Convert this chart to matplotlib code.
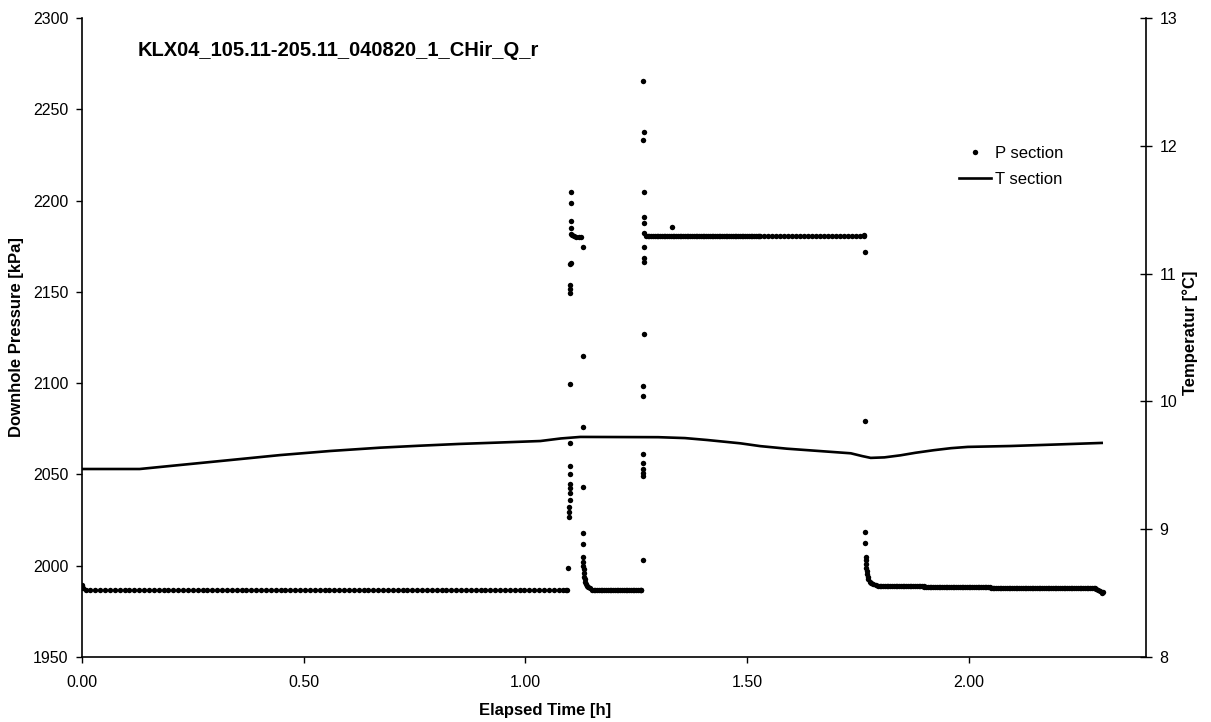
import numpy as np
import matplotlib.pyplot as plt

plt.rcParams['font.family'] = ['Liberation Sans', 'DejaVu Sans']

title = 'KLX04_105.11-205.11_040820_1_CHir_Q_r'

# pressure log
# flat stretches: start [h], end [h], logging step [h], level [kPa]
p_flat = [
    (0.008, 1.090, 0.011, 1986.6),
    (1.150, 1.262, 0.004, 1986.9),
    (1.272, 1.530, 0.004, 2180.7),
    (1.530, 1.762, 0.009, 2180.6),
    (1.795, 1.900, 0.004, 1989.0),
    (1.900, 2.050, 0.004, 1988.2),
    (2.050, 2.286, 0.004, 1987.6),
]

t_start = [0.000, 0.003]
p_start = [1989.2, 1987.8]

t_jump1 = [1.092, 1.095, 1.097, 1.098, 1.099, 1.099, 1.100, 1.100, 1.100, 1.101,
           1.101, 1.101, 1.101, 1.100, 1.101, 1.101, 1.101, 1.101, 1.102, 1.103,
           1.103, 1.103, 1.102, 1.102, 1.106, 1.110, 1.115, 1.120, 1.125]
p_jump1 = [1986.6, 1986.8, 1998.9, 2026.7, 2029.5, 2032.0, 2036.0, 2040.0, 2042.5, 2045.0,
           2050.0, 2054.6, 2067.4, 2099.3, 2149.3, 2151.5, 2153.7, 2165.2, 2166.0, 2181.7,
           2184.8, 2189.0, 2198.8, 2204.8, 2181.0, 2180.5, 2180.3, 2180.2, 2180.2]

t_recov1 = [1.129, 1.129, 1.129, 1.129, 1.130, 1.130, 1.130, 1.131, 1.131, 1.132,
            1.132, 1.133, 1.134, 1.135, 1.137, 1.139, 1.142, 1.146]
p_recov1 = [2174.7, 2115.0, 2075.8, 2043.3, 2017.7, 2011.7, 2004.9, 2002.0, 2000.0, 1998.0,
            1996.0, 1994.0, 1992.5, 1991.2, 1990.0, 1989.0, 1988.2, 1987.6]

t_jump2 = [1.262, 1.265, 1.266, 1.266, 1.266, 1.266, 1.266, 1.266, 1.266, 1.267,
           1.267, 1.268, 1.268, 1.268, 1.268, 1.268, 1.268, 1.266, 1.267, 1.266, 1.330]
p_jump2 = [1986.8, 2003.1, 2049.0, 2051.0, 2053.0, 2056.0, 2061.2, 2093.0, 2098.4, 2126.9,
           2166.5, 2168.4, 2174.7, 2182.4, 2187.5, 2191.1, 2204.8, 2233.1, 2237.7, 2265.6, 2185.7]

t_drop = [1.763, 1.764, 1.766, 1.766, 1.767, 1.767, 1.768, 1.768, 1.769, 1.769,
          1.770, 1.771, 1.772, 1.774, 1.777, 1.780, 1.785, 1.790]
p_drop = [2181.2, 2180.4, 2172.0, 2079.2, 2018.6, 2012.6, 2005.0, 2003.0, 2001.0, 1999.0,
          1997.0, 1995.5, 1994.0, 1992.5, 1991.3, 1990.5, 1989.8, 1989.5]

t_end = [2.288, 2.292, 2.296, 2.300, 2.302]
p_end = [1987.2, 1986.8, 1986.0, 1985.2, 1985.6]

# temperature in the section
t_temp = [0.0, 0.13, 0.22, 0.334, 0.447, 0.56, 0.673, 0.76, 0.85, 0.94, 1.034, 1.08,
          1.124, 1.30, 1.36, 1.41, 1.485, 1.53, 1.59, 1.65, 1.734, 1.76, 1.779, 1.81,
          1.846, 1.88, 1.921, 1.96, 1.998, 2.095, 2.20, 2.30]
temp = [9.471, 9.471, 9.502, 9.541, 9.58, 9.612, 9.638, 9.653, 9.667, 9.678, 9.690, 9.710,
        9.722, 9.72, 9.713, 9.698, 9.672, 9.650, 9.630, 9.615, 9.594, 9.572, 9.558, 9.562,
        9.578, 9.598, 9.618, 9.634, 9.644, 9.651, 9.663, 9.675]

# assemble the pressure series
t_p = [np.array(t_start)]
p_p = [np.array(p_start)]
for t0, t1, step, level in p_flat:
    tt = np.arange(t0, t1, step)
    t_p.append(tt)
    p_p.append(np.full(len(tt), level))
for tt, pp in [(t_jump1, p_jump1), (t_recov1, p_recov1), (t_jump2, p_jump2),
               (t_drop, p_drop), (t_end, p_end)]:
    t_p.append(np.array(tt))
    p_p.append(np.array(pp))
t_p = np.concatenate(t_p)
p_p = np.concatenate(p_p)

fig = plt.figure(figsize=(12.11, 7.22), dpi=100)
ax = fig.add_axes([82 / 1211, 1 - 657 / 722, 1064 / 1211, 639 / 722])
ax2 = ax.twinx()

p_line, = ax.plot(t_p, p_p, 'o', color='black', ms=3.9, mew=0, label='P section')
t_line, = ax2.plot(t_temp, temp, '-', color='black', lw=1.9, label='T section')

ax.set_xlim(0, 2.4)
ax.set_ylim(1950, 2300)
ax.set_yticks(np.arange(1950, 2301, 50))
ax.set_xticks([0, 0.5, 1.0, 1.5, 2.0])
ax.set_xticklabels(['0.00', '0.50', '1.00', '1.50', '2.00'])
ax2.set_ylim(8, 13)
ax2.set_yticks(range(8, 14))

for a in (ax, ax2):
    a.spines['top'].set_visible(False)
    for s in a.spines.values():
        s.set_linewidth(1.2)
ax.spines['right'].set_visible(False)
ax2.spines['left'].set_visible(False)
ax2.spines['bottom'].set_visible(False)

ax.tick_params(axis='y', direction='out', length=4, width=1, pad=5.7, labelsize=11.5)
ax.tick_params(axis='x', direction='out', length=4, width=1, pad=9.3, labelsize=11.5)
ax2.tick_params(axis='y', direction='inout', length=8, width=1, pad=5.7, labelsize=11.5)

fig.text(138 / 1211, 1 - 51 / 722, title, ha='left', va='center',
         fontsize=14.5, fontweight='bold')
fig.text(545 / 1211, 1 - 711 / 722, 'Elapsed Time [h]', ha='center', va='center',
         fontsize=12, fontweight='bold')
fig.text(17 / 1211, 1 - 337 / 722, 'Downhole Pressure [kPa]', ha='center', va='center',
         rotation=90, fontsize=12, fontweight='bold')
fig.text(1190 / 1211, 1 - 333 / 722, 'Temperatur [°C]', ha='center', va='center',
         rotation=90, fontsize=12, fontweight='bold')

ax2.legend([p_line, t_line], ['P section', 'T section'], loc='upper left',
           bbox_to_anchor=(959 / 1211, 1 - 146 / 722), bbox_transform=fig.transFigure,
           frameon=False, borderpad=0, borderaxespad=0, handlelength=1.9,
           handletextpad=0.25, labelspacing=0.63, numpoints=1, fontsize=12)

fig.savefig('out.png', dpi=100)
